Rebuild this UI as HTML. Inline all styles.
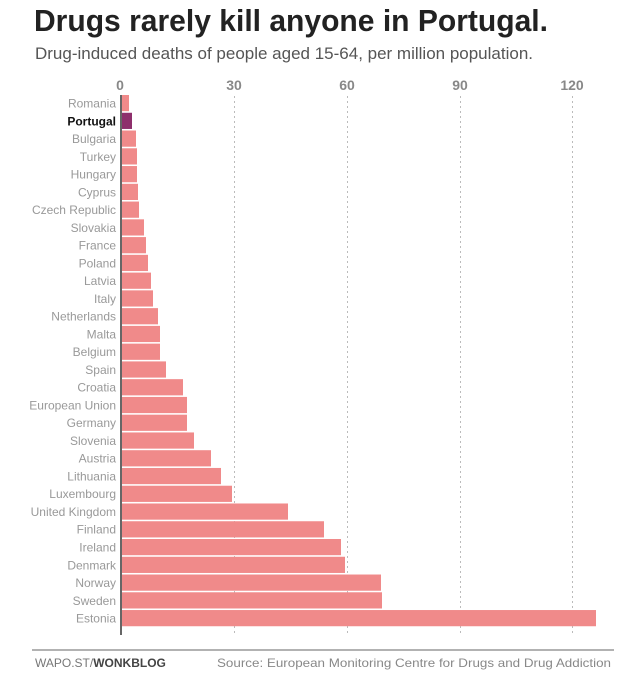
<!DOCTYPE html>
<html><head><meta charset="utf-8"><style>
body{margin:0;background:#fff;width:640px;height:680px;overflow:hidden;font-family:"Liberation Sans",sans-serif}
</style></head><body>
<svg width="640" height="680" xmlns="http://www.w3.org/2000/svg" font-family="Liberation Sans, sans-serif">
<text x="34" y="31" font-family="Liberation Sans Narrow, Liberation Sans, sans-serif" font-weight="bold" font-size="31" fill="#222" textLength="514" lengthAdjust="spacingAndGlyphs">Drugs rarely kill anyone in Portugal.</text>
<text x="35" y="59" font-size="16.5" fill="#555" textLength="498" lengthAdjust="spacingAndGlyphs">Drug-induced deaths of people aged 15-64, per million population.</text>
<g font-size="14" fill="#888" font-weight="bold" text-anchor="middle">
<text x="120" y="90">0</text><text x="234" y="90">30</text><text x="347" y="90">60</text><text x="460" y="90">90</text><text x="572" y="90">120</text>
</g>
<g stroke="#bbb" stroke-dasharray="2,3" stroke-width="1">
<line x1="234.5" y1="96" x2="234.5" y2="634"/><line x1="347.5" y1="96" x2="347.5" y2="634"/><line x1="460.5" y1="96" x2="460.5" y2="634"/><line x1="572.5" y1="96" x2="572.5" y2="634"/>
</g>
<g id="bars"></g>
<line x1="121" y1="95" x2="121" y2="635" stroke="#333" stroke-width="1.5"/>
<line x1="32" y1="650" x2="614" y2="650" stroke="#999" stroke-width="1.5"/>
<text x="35" y="667" font-size="12" fill="#777">WAPO.ST/<tspan font-weight="bold" fill="#444">WONKBLOG</tspan></text>
<text x="611" y="667" font-size="12" fill="#888" text-anchor="end" textLength="394" lengthAdjust="spacingAndGlyphs">Source: European Monitoring Centre for Drugs and Drug Addiction</text>
</svg>
<script>
var d=[["Romania",129],["Portugal",132],["Bulgaria",136],["Turkey",137],["Hungary",137],["Cyprus",138],["Czech Republic",139],["Slovakia",144],["France",146],["Poland",148],["Latvia",151],["Italy",153],["Netherlands",158],["Malta",160],["Belgium",160],["Spain",166],["Croatia",183],["European Union",187],["Germany",187],["Slovenia",194],["Austria",211],["Lithuania",221],["Luxembourg",232],["United Kingdom",288],["Finland",324],["Ireland",341],["Denmark",345],["Norway",381],["Sweden",382],["Estonia",596]];
var g=document.getElementById("bars"),s="";
d.forEach(function(r,i){var c=103+17.76*i;var p=r[0]=="Portugal";
s+='<rect x="122" y="'+(c-8)+'" width="'+(r[1]-122)+'" height="16.2" fill="'+(p?"#8e2f6c":"#f08a8a")+'"/>';
s+='<text x="116" y="'+(c+4.5)+'" font-size="12" text-anchor="end" fill="'+(p?"#111":"#999")+'"'+(p?' font-weight="bold"':'')+'>'+r[0]+'</text>';});
g.innerHTML=s;
</script>
</body></html>
